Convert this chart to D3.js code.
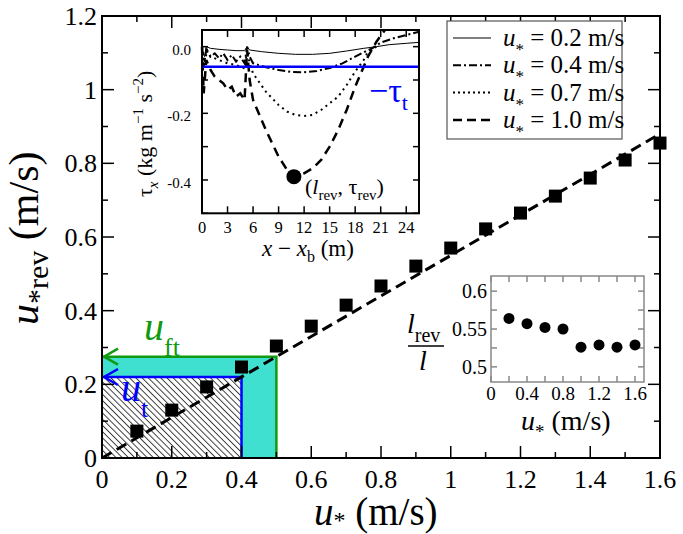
<!DOCTYPE html>
<html><head><meta charset="utf-8">
<script src="https://cdn.jsdelivr.net/npm/d3@7"></script>
</head>
<body style="margin:0;background:#fff">
<svg id="chart" width="683" height="534"></svg>
<script>
// ---------- DATA ----------
const mainU = [0.1,0.2,0.3,0.4,0.5,0.6,0.7,0.8,0.9,1.0,1.1,1.2,1.3,1.4,1.5,1.6];
const mainURev = [0.073,0.130,0.193,0.247,0.304,0.358,0.415,0.467,0.521,0.570,0.622,0.665,0.711,0.760,0.809,0.855];
const fitU = [0,1.6];
const fitURev = [0,0.88];
const uT = 0.4, uTRev = 0.22;
const uFT = 0.5, uFTRev = 0.275;
const mainXTicks = [0,0.2,0.4,0.6,0.8,1,1.2,1.4,1.6];
const mainYTicks = [0,0.2,0.4,0.6,0.8,1,1.2];

// inset 1: shear stress profiles
const tauX02 = [0,0.3,0.5,1,2,3,4,5,5.3,5.6,7,9,11,13,15,17,19,20.5,22,24,25.5];
const tauY02 = [-0.01,-0.03,0.0,-0.005,-0.008,-0.01,-0.012,-0.012,0.0,-0.01,-0.015,-0.02,-0.023,-0.023,-0.02,-0.013,-0.005,0.0,0.006,0.01,0.013];
const tauX04 = [0,0.2,0.5,1,1.5,2,2.5,3,3.5,4,4.5,5,5.3,5.6,6,7.5,9,10.5,12,13.5,15,16.5,18,19,20,21,22.5,24,25.5];
const tauY04 = [0,-0.06,-0.01,-0.03,-0.02,-0.035,-0.02,-0.04,-0.025,-0.045,-0.03,-0.05,0.0,-0.03,-0.05,-0.062,-0.07,-0.076,-0.077,-0.073,-0.064,-0.05,-0.03,-0.017,-0.005,0.012,0.025,0.035,0.045];
const tauX07 = [0,0.3,0.6,1,2,3,4,5,5.3,5.6,6,7.5,9,10,11,12,13,14,15,16,17,18,19,19.5,20.5];
const tauY07 = [0,-0.05,-0.01,-0.03,-0.04,-0.05,-0.055,-0.065,-0.01,-0.05,-0.08,-0.135,-0.175,-0.195,-0.205,-0.208,-0.205,-0.19,-0.17,-0.15,-0.115,-0.075,-0.04,-0.015,0.0];
const tauX10 = [0,0.2,0.5,1,1.5,2,2.5,3,3.5,4,4.5,5,5.3,5.6,6,7.5,9,10,10.8,12,13,14,15,16,17,18,19,19.5,20.5,21.5];
const tauY10 = [0,-0.14,-0.04,-0.07,-0.09,-0.1,-0.11,-0.13,-0.12,-0.15,-0.14,-0.16,-0.01,-0.1,-0.16,-0.25,-0.33,-0.37,-0.39,-0.38,-0.365,-0.34,-0.3,-0.25,-0.19,-0.12,-0.06,-0.03,0.015,0.05];
const tauThreshold = -0.06;
const revPoint = [10.8,-0.39];
const insetXTicks = [0,3,6,9,12,15,18,21,24];
const insetYTicks = [0,-0.2,-0.4];
const legendLabels = ["0.2","0.4","0.7","1.0"];

// inset 2: l_rev / l
const ratioU = [0.2,0.4,0.6,0.8,1.0,1.2,1.4,1.6];
const ratioL = [0.564,0.557,0.552,0.550,0.526,0.529,0.526,0.529];
const ratioXTicks = [0,0.4,0.8,1.2,1.6];
const ratioYTicks = [0.5,0.55,0.6];

// ---------- DRAW ----------
const svg = d3.select("#chart");
const defs = svg.append("defs");
const hatch = defs.append("pattern").attr("id","hatch").attr("patternUnits","userSpaceOnUse")
  .attr("width",4.4).attr("height",10).attr("patternTransform","rotate(-45)");
hatch.append("rect").attr("width",4.4).attr("height",10).attr("fill","#fff");
hatch.append("line").attr("x1",0.5).attr("x2",0.5).attr("y1",0).attr("y2",10).attr("stroke","#000").attr("stroke-width",0.8);

function rich(sel, parts){
  let cur = 0;
  sel.style("white-space","pre");
  parts.forEach(p=>{
    const off = p.off||0;
    const ts = sel.append("tspan").attr("dy", off-cur).text(p.t);
    if(p.size) ts.style("font-size", p.size+"px");
    if(p.it) ts.style("font-style","italic");
    cur = off;
  });
  return sel;
}

const x = d3.scaleLinear().domain([0,1.6]).range([102,660]);
const y = d3.scaleLinear().domain([0,1.2]).range([458,16]);

// shaded regions
svg.append("rect").attr("x",x(0)).attr("y",y(uFTRev)).attr("width",x(uFT)-x(0)).attr("height",y(0)-y(uFTRev)).attr("fill","#40E0D0");
svg.append("rect").attr("x",x(0)).attr("y",y(uTRev)).attr("width",x(uT)-x(0)).attr("height",y(0)-y(uTRev)).attr("fill","url(#hatch)");
const green = "#119911", blue = "#0000ff";
svg.append("path").attr("d",d3.line()([[x(0),y(uFTRev)],[x(uFT),y(uFTRev)],[x(uFT),y(0)]])).attr("fill","none").attr("stroke",green).attr("stroke-width",2.5);
svg.append("path").attr("d",d3.line()([[x(0),y(uTRev)],[x(uT),y(uTRev)],[x(uT),y(0)]])).attr("fill","none").attr("stroke",blue).attr("stroke-width",2.5);
function arrow(yy,col){
  svg.append("path").attr("d",`M${x(0)+16},${yy-8} L${x(0)+2},${yy} L${x(0)+16},${yy+8}`).attr("fill","none").attr("stroke",col).attr("stroke-width",2.5);
}
arrow(y(uFTRev),green); arrow(y(uTRev),blue);
rich(svg.append("text").attr("x",144).attr("y",340).attr("fill",green).style("font-size","40px"),
  [{t:"u",it:true},{t:"ft",size:26,off:16}]);
rich(svg.append("text").attr("x",121).attr("y",401).attr("fill",blue).style("font-size","40px"),
  [{t:"u",it:true},{t:"t",size:26,off:16}]);

// fit line
svg.append("path").attr("d",d3.line().x(d=>x(d[0])).y(d=>y(d[1]))(fitU.map((u,i)=>[u,fitURev[i]])))
  .attr("fill","none").attr("stroke","#000").attr("stroke-width",3).attr("stroke-dasharray","11,6");
// squares
svg.selectAll("rect.sq").data(mainU).join("rect").attr("class","sq")
  .attr("x",(d)=>x(d)-6.5).attr("y",(d,i)=>y(mainURev[i])-6.5).attr("width",13).attr("height",13).attr("fill","#000");

// main axes frame & ticks
const g = svg.append("g");
g.append("rect").attr("x",x(0)).attr("y",y(1.2)).attr("width",x(1.6)-x(0)).attr("height",y(0)-y(1.2)).attr("fill","none").attr("stroke","#000").attr("stroke-width",2);
const xMinor = d3.range(0,1.61,0.1), yMinor = d3.range(0,1.21,0.1);
xMinor.forEach((v,i)=>{const L = i%2===0?12:6;
  g.append("line").attr("x1",x(v)).attr("x2",x(v)).attr("y1",y(0)).attr("y2",y(0)-L).attr("stroke","#000").attr("stroke-width",1.5);
  g.append("line").attr("x1",x(v)).attr("x2",x(v)).attr("y1",y(1.2)).attr("y2",y(1.2)+L).attr("stroke","#000").attr("stroke-width",1.5);});
yMinor.forEach((v,i)=>{const L = i%2===0?12:6;
  g.append("line").attr("y1",y(v)).attr("y2",y(v)).attr("x1",x(0)).attr("x2",x(0)+L).attr("stroke","#000").attr("stroke-width",1.5);
  g.append("line").attr("y1",y(v)).attr("y2",y(v)).attr("x1",x(1.6)).attr("x2",x(1.6)-L).attr("stroke","#000").attr("stroke-width",1.5);});
g.selectAll("text.xt").data(mainXTicks).join("text").attr("class","xt").attr("x",d=>x(d)).attr("y",488)
  .attr("text-anchor","middle").style("font-size","26px").text(d=>d3.format("~g")(d));
g.selectAll("text.yt").data(mainYTicks).join("text").attr("class","yt").attr("x",97).attr("y",d=>y(d)+9)
  .attr("text-anchor","end").style("font-size","26px").text(d=>d3.format("~g")(d));
rich(svg.append("text").attr("x",314).attr("y",525).style("font-size","39px"),
  [{t:"u",it:true},{t:"*",size:24,off:3},{t:" (m/s)",off:0}]);
rich(svg.append("text").attr("transform","translate(38,325) rotate(-90)").style("font-size","42px"),
  [{t:"u",it:true},{t:"*rev",size:30,off:10},{t:" (m/s)",off:0}]);

// ---------- inset 1 ----------
const ix = d3.scaleLinear().domain([0,25.5]).range([202,419]);
const iy = d3.scaleLinear().domain([-0.5,0.05]).range([213.3,30]);
svg.append("rect").attr("x",ix(0)).attr("y",iy(0.05)).attr("width",ix(25.5)-ix(0)).attr("height",iy(-0.5)-iy(0.05)).attr("fill","#fff");
const il = d3.line().x(d=>ix(d[0])).y(d=>iy(d[1])).curve(d3.curveLinear);
const zipXY = (a,b)=>a.map((v,i)=>[v,b[i]]);
const ic = svg.append("g");
ic.append("path").attr("d",il(zipXY(tauX02,tauY02))).attr("fill","none").attr("stroke","#000").attr("stroke-width",1);
ic.append("path").attr("d",il(zipXY(tauX04,tauY04))).attr("fill","none").attr("stroke","#000").attr("stroke-width",2).attr("stroke-dasharray","8,3,2,3");
ic.append("path").attr("d",il(zipXY(tauX07,tauY07))).attr("fill","none").attr("stroke","#000").attr("stroke-width",2).attr("stroke-dasharray","2,4");
ic.append("path").attr("d",il(zipXY(tauX10,tauY10))).attr("fill","none").attr("stroke","#000").attr("stroke-width",2.5).attr("stroke-dasharray","9,6");
ic.append("line").attr("x1",ix(0)).attr("x2",ix(25.5)).attr("y1",iy(tauThreshold)).attr("y2",iy(tauThreshold)).attr("stroke",blue).attr("stroke-width",2.5);
ic.append("circle").attr("cx",ix(revPoint[0])).attr("cy",iy(revPoint[1])).attr("r",7.5).attr("fill","#000");
rich(ic.append("text").attr("x",369).attr("y",102).attr("fill",blue).style("font-size","34px"),
  [{t:"−τ"},{t:"t",size:22,off:8}]);
rich(ic.append("text").attr("x",305).attr("y",194).style("font-size","22px"),
  [{t:"("},{t:"l",it:true},{t:"rev",size:15,off:6},{t:", τ",off:0},{t:"rev",size:15,off:6},{t:")",off:0}]);
ic.append("rect").attr("x",ix(0)).attr("y",iy(0.05)).attr("width",ix(25.5)-ix(0)).attr("height",iy(-0.5)-iy(0.05)).attr("fill","none").attr("stroke","#000").attr("stroke-width",2);
insetXTicks.forEach(v=>{
  ic.append("line").attr("x1",ix(v)).attr("x2",ix(v)).attr("y1",iy(-0.5)).attr("y2",iy(-0.5)-7).attr("stroke","#000").attr("stroke-width",1.5);
  ic.append("line").attr("x1",ix(v)).attr("x2",ix(v)).attr("y1",iy(0.05)).attr("y2",iy(0.05)+7).attr("stroke","#000").attr("stroke-width",1.5);});
d3.range(0,-0.51,-0.1).forEach(v=>{
  ic.append("line").attr("y1",iy(v)).attr("y2",iy(v)).attr("x1",ix(0)).attr("x2",ix(0)+6).attr("stroke","#000").attr("stroke-width",1.5);
  ic.append("line").attr("y1",iy(v)).attr("y2",iy(v)).attr("x1",ix(25.5)).attr("x2",ix(25.5)-6).attr("stroke","#000").attr("stroke-width",1.5);});
ic.selectAll("text.ixt").data(insetXTicks).join("text").attr("class","ixt").attr("x",d=>ix(d)).attr("y",233)
  .attr("text-anchor","middle").style("font-size","16.5px").text(d=>d);
ic.selectAll("text.iyt").data(insetYTicks).join("text").attr("class","iyt").attr("x",191).attr("y",d=>iy(d)+8)
  .attr("text-anchor","end").style("font-size","15px").text(d=>d3.format(".1f")(d).replace("−","-"));
rich(ic.append("text").attr("x",262).attr("y",256).style("font-size","23px"),
  [{t:"x",it:true},{t:" − "},{t:"x",it:true},{t:"b",size:16,off:6},{t:" (m)",off:0}]);
rich(ic.append("text").attr("transform","translate(152,197) rotate(-90)").style("font-size","22px"),
  [{t:"τ"},{t:"x",it:true,size:15,off:6},{t:" (kg m",off:0},{t:"−1",size:15,off:-9},{t:" s",off:0},{t:"−2",size:15,off:-9},{t:")",off:0}]);

// legend
const lg = svg.append("g");
lg.append("rect").attr("x",447).attr("y",21).attr("width",175).attr("height",118).attr("fill","#fff").attr("stroke","#555").attr("stroke-width",1.2);
const lstyles = [{w:1,d:null},{w:2,d:"8,3,2,3"},{w:2,d:"2,3"},{w:2.5,d:"9,5"}];
legendLabels.forEach((lab,i)=>{
  const yy = 38 + i*27.3;
  const ln = lg.append("line").attr("x1",453).attr("x2",491).attr("y1",yy).attr("y2",yy).attr("stroke","#000").attr("stroke-width",lstyles[i].w);
  if(lstyles[i].d) ln.attr("stroke-dasharray",lstyles[i].d);
  rich(lg.append("text").attr("x",503).attr("y",yy+8).style("font-size","25px"),
    [{t:"u",it:true},{t:"*",size:17,off:9},{t:" = "+lab+" m/s",off:0}]);
});

// ---------- inset 2 ----------
const jx = d3.scaleLinear().domain([0,1.7]).range([491,644]);
const jy = d3.scaleLinear().domain([0.48,0.62]).range([382,276]);
const gc = "#888";
const j = svg.append("g");
j.append("rect").attr("x",jx(0)).attr("y",jy(0.62)).attr("width",jx(1.7)-jx(0)).attr("height",jy(0.48)-jy(0.62)).attr("fill","#fff").attr("stroke",gc).attr("stroke-width",1.5);
d3.range(0,1.61,0.2).forEach(v=>{
  j.append("line").attr("x1",jx(v)).attr("x2",jx(v)).attr("y1",jy(0.48)).attr("y2",jy(0.48)-6).attr("stroke",gc).attr("stroke-width",1.5);
  j.append("line").attr("x1",jx(v)).attr("x2",jx(v)).attr("y1",jy(0.62)).attr("y2",jy(0.62)+6).attr("stroke",gc).attr("stroke-width",1.5);});
d3.range(0.5,0.621,0.025).forEach(v=>{
  j.append("line").attr("y1",jy(v)).attr("y2",jy(v)).attr("x1",jx(0)).attr("x2",jx(0)+6).attr("stroke",gc).attr("stroke-width",1.5);
  j.append("line").attr("y1",jy(v)).attr("y2",jy(v)).attr("x1",jx(1.7)).attr("x2",jx(1.7)-6).attr("stroke",gc).attr("stroke-width",1.5);});
j.selectAll("circle").data(ratioU).join("circle").attr("cx",d=>jx(d)).attr("cy",(d,i)=>jy(ratioL[i])).attr("r",5.5).attr("fill","#000");
j.selectAll("text.jxt").data(ratioXTicks).join("text").attr("class","jxt").attr("x",d=>jx(d)).attr("y",400)
  .attr("text-anchor","middle").style("font-size","19px").text(d=>d3.format("~g")(d));
j.selectAll("text.jyt").data(ratioYTicks).join("text").attr("class","jyt").attr("x",487).attr("y",d=>jy(d)+7)
  .attr("text-anchor","end").style("font-size","20px").text(d=>d3.format("~g")(d));
rich(j.append("text").attr("x",521).attr("y",430).style("font-size","28px"),
  [{t:"u",it:true},{t:"*",size:19,off:8},{t:" (m/s)",off:0}]);
rich(j.append("text").attr("x",407).attr("y",333).style("font-size","28px"),
  [{t:"l",it:true},{t:"rev",size:20,off:9}]);
j.append("line").attr("x1",408).attr("x2",444).attr("y1",346).attr("y2",346).attr("stroke","#000").attr("stroke-width",1.5);
j.append("text").attr("x",419).attr("y",370).style("font-size","28px").style("font-style","italic").text("l");

svg.selectAll("text").style("font-family","Liberation Serif");
</script>
</body></html>
